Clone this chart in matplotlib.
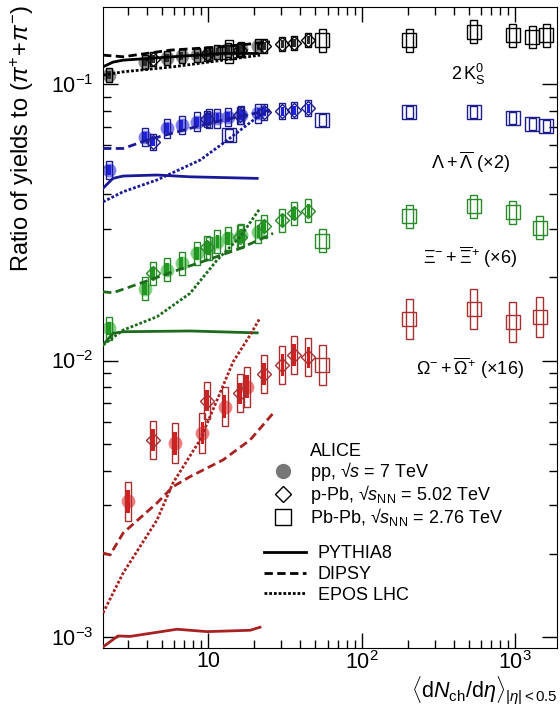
import numpy as np
import matplotlib
matplotlib.use('Agg')
import matplotlib.pyplot as plt
from matplotlib.patches import Rectangle
from matplotlib.lines import Line2D
from matplotlib.ticker import FuncFormatter, LogLocator, NullFormatter

plt.rcParams['font.family'] = ['Liberation Sans', 'DejaVu Sans']
plt.rcParams['mathtext.fontset'] = 'custom'
plt.rcParams['mathtext.rm'] = 'Liberation Sans'
plt.rcParams['mathtext.it'] = 'Liberation Sans:italic'
plt.rcParams['mathtext.bf'] = 'Liberation Sans:bold'

# multiplicity classes <dNch/deta>
pp_x = [2.26, 3.90, 5.40, 6.72, 8.45, 10.1, 11.5, 13.5, 16.5, 21.3]
pp_x_om = [3.0, 6.1, 9.2, 12.8, 18.0]
ppb_x = [4.4, 9.8, 16.1, 23.2, 30.5, 36.2, 45.0]
pbpb_x = [13.7, 55.5, 205, 537.5, 966, 1294, 1601]
pbpb_x_multi = [55.5, 205, 537.5, 966, 1447.5]

# measured ratios to (pi+ + pi-), already scaled
k0s_pp = [0.108, 0.120, 0.124, 0.126, 0.127, 0.129, 0.131, 0.133, 0.134, 0.137]
k0s_ppb = [0.123, 0.129, 0.133, 0.137, 0.140, 0.141, 0.144]
k0s_pbpb = [0.131, 0.144, 0.144, 0.155, 0.150, 0.148, 0.150]

lam_pp = [0.0489, 0.0645, 0.0692, 0.0711, 0.0731, 0.0752, 0.0752, 0.0762, 0.0773, 0.0783]
lam_ppb = [0.0618, 0.0750, 0.0770, 0.0794, 0.0799, 0.0805, 0.0817]
lam_pbpb = [0.0654, 0.0741, 0.0794, 0.0794, 0.0752, 0.0717, 0.0705]

xi_pp = [0.0131, 0.0182, 0.0213, 0.0225, 0.0244, 0.0255, 0.0269, 0.0277, 0.0284, 0.0292]
xi_ppb = [0.0207, 0.0257, 0.0280, 0.0306, 0.0322, 0.0341, 0.0348]
xi_pbpb = [0.0271, 0.0333, 0.0362, 0.0344, 0.0302]

om_pp = [0.00309, 0.00502, 0.00547, 0.00681, 0.00804]
om_ppb = [0.00516, 0.00716, 0.00761, 0.00894, 0.00963, 0.01047, 0.01027]
om_pbpb = [0.00963, 0.01409, 0.01532, 0.01381, 0.0144]

# relative systematic uncertainties (pp, p-Pb, Pb-Pb)
k0s_sys = [0.06, 0.06, 0.10]
lam_sys = [0.08, 0.07, 0.05]
xi_sys = [0.10, 0.10, 0.10]
om_sys = [0.18, 0.17, 0.18]

# model curves (pp)
k0s_pythia_x = [2.07, 2.40, 2.80, 5.91, 12.5, 20.9]
k0s_pythia = [0.1155, 0.1201, 0.1221, 0.1256, 0.1291, 0.1291]
k0s_dipsy_x = [2.07, 2.80, 5.65, 12.5, 25.3]
k0s_dipsy = [0.1273, 0.1256, 0.1327, 0.1365, 0.1422]
k0s_epos_x = [2.07, 2.80, 5.91, 12.5, 21.8]
k0s_epos = [0.1078, 0.1108, 0.1155, 0.1221, 0.1273]

lam_pythia_x = [2.07, 2.40, 2.80, 4.65, 7.63, 20.9]
lam_pythia = [0.0420, 0.0456, 0.0465, 0.0469, 0.0462, 0.0456]
lam_dipsy_x = [2.07, 2.80, 4.00, 7.63, 12.5, 25.3]
lam_dipsy = [0.0585, 0.0585, 0.0627, 0.0692, 0.0741, 0.0805]
lam_epos_x = [2.07, 2.80, 4.65, 8.87, 12.5, 21.8, 25.3]
lam_epos = [0.0375, 0.0408, 0.0450, 0.0531, 0.0610, 0.0773, 0.0799]

xi_pythia_x = [2.07, 2.40, 2.80, 7.63, 20.9]
xi_pythia = [0.01138, 0.01254, 0.01271, 0.01279, 0.01259]
xi_dipsy_x = [2.07, 2.40, 3.61, 5.91, 9.85, 16.2, 26.5]
xi_dipsy = [0.01773, 0.01758, 0.01902, 0.02096, 0.02309, 0.02544, 0.02884]
xi_epos_x = [2.07, 2.80, 4.65, 7.63, 11.45, 16.2, 21.8]
xi_epos = [0.01138, 0.01289, 0.0144, 0.0175, 0.02309, 0.02803, 0.03552]

om_pythia_x = [2.07, 2.59, 3.10, 6.28, 9.85, 18.8, 21.8]
om_pythia = [0.00092, 0.001008, 0.001004, 0.001066, 0.001045, 0.001057, 0.001084]
om_dipsy_x = [2.07, 2.30, 2.80, 4.65, 5.91, 7.63, 12.5, 18.8, 26.5]
om_dipsy = [0.002012, 0.00198, 0.002377, 0.003052, 0.003496, 0.0038, 0.004366, 0.00516, 0.00644]
om_epos_x = [2.07, 2.80, 4.65, 5.91, 8.87, 11.45, 14.55, 18.8, 21.8]
om_epos = [0.001221, 0.001704, 0.002649, 0.003606, 0.00516, 0.0072, 0.00988, 0.01237, 0.01425]

fig = plt.figure(figsize=(5.6, 7.07), dpi=100)
ax = fig.add_axes([0.184, 0.0835, 0.811, 0.9065])
ax.set_xscale('log')
ax.set_yscale('log')
ax.set_xlim(2.07, 1880)
ax.set_ylim(0.000912, 0.19)

LS = {'pythia': '-', 'dipsy': (0, (3, 1.6)), 'epos': (0, (1, 0.7))}


def draw_points(x, y, rel, kind, dark, light, edge):
    hw = 1.055 if kind == 'PbPb' else 1.046
    for xv, yv in zip(x, y):
        y0, y1 = yv / (1 + rel), yv * (1 + rel)
        ax.add_patch(Rectangle((xv / hw, y0), xv * hw - xv / hw, y1 - y0,
                               fill=False, ec=edge, lw=1, zorder=4))
        if kind != 'PbPb':
            u = 1 + 0.55 * rel
            bw = 1.028
            ax.add_patch(Rectangle((xv / bw, yv / u), xv * bw - xv / bw, yv * u - yv / u,
                                   fc=dark, ec='none', zorder=3))
    if kind == 'pp':
        ax.plot(x, y, 'o', ms=10, mfc=light, mec='none', alpha=0.85, zorder=2)
    elif kind == 'pPb':
        ax.plot(x, y, 'D', ms=7.5, mfc='none', mec=edge, mew=1, zorder=5)
    else:
        ax.plot(x, y, 's', ms=10.5, mfc='none', mec=edge, mew=1, zorder=5)


def draw_species(pp, ppb, pbpb, xpp, xpbpb, sys, dark, light, edge, models, mcol):
    for (mx, my), key in zip(models, ['pythia', 'dipsy', 'epos']):
        ax.plot(mx, my, color=mcol, ls=LS[key], lw=2, zorder=6)
    draw_points(xpp, pp, sys[0], 'pp', dark, light, edge)
    draw_points(ppb_x, ppb, sys[1], 'pPb', dark, light, edge)
    draw_points(xpbpb, pbpb, sys[2], 'PbPb', dark, light, edge)


draw_species(k0s_pp, k0s_ppb, k0s_pbpb, pp_x, pbpb_x, k0s_sys,
             '#2a2a2a', '#7a7a7a', 'black',
             [(k0s_pythia_x, k0s_pythia), (k0s_dipsy_x, k0s_dipsy), (k0s_epos_x, k0s_epos)], 'black')
draw_species(lam_pp, lam_ppb, lam_pbpb, pp_x, pbpb_x, lam_sys,
             '#2020e0', '#6a6af0', '#1c1c8c',
             [(lam_pythia_x, lam_pythia), (lam_dipsy_x, lam_dipsy), (lam_epos_x, lam_epos)], '#1a1a99')
draw_species(xi_pp, xi_ppb, xi_pbpb, pp_x, pbpb_x_multi, xi_sys,
             '#1f9a1f', '#6ccd6c', '#2a8a2a',
             [(xi_pythia_x, xi_pythia), (xi_dipsy_x, xi_dipsy), (xi_epos_x, xi_epos)], '#1e6b1e')
draw_species(om_pp, om_ppb, om_pbpb, pp_x_om, pbpb_x_multi, om_sys,
             '#d42020', '#ee6a6a', '#a83030',
             [(om_pythia_x, om_pythia), (om_dipsy_x, om_dipsy), (om_epos_x, om_epos)], '#a82222')

# axes styling (ROOT look)
ax.xaxis.set_major_locator(LogLocator(base=10, numticks=10))
ax.xaxis.set_minor_locator(LogLocator(base=10, subs=np.arange(2, 10), numticks=20))
ax.yaxis.set_major_locator(LogLocator(base=10, numticks=10))
ax.yaxis.set_minor_locator(LogLocator(base=10, subs=np.arange(2, 10), numticks=20))
ax.xaxis.set_major_formatter(FuncFormatter(
    lambda v, p: '10' if round(np.log10(v)) == 1 else r'$10^{%d}$' % round(np.log10(v))))
ax.yaxis.set_major_formatter(FuncFormatter(lambda v, p: r'$10^{%d}$' % round(np.log10(v))))
ax.xaxis.set_minor_formatter(NullFormatter())
ax.yaxis.set_minor_formatter(NullFormatter())
ax.tick_params(which='both', direction='in', top=True, right=True, labelsize=15.5)
ax.tick_params(which='major', length=11, width=1)
ax.tick_params(which='minor', length=5.5, width=1)
ax.tick_params(axis='x', pad=2)
ax.tick_params(axis='y', pad=7)

ax.text(-0.178, 0.795, r'Ratio of yields to $(\pi^{+}\!+\!\pi^{-})$', rotation=90,
        ha='center', va='center', fontsize=17, transform=ax.transAxes)
ax.text(1.0, -0.091, r'$\langle\mathrm{d}N_{\mathrm{ch}}/\mathrm{d}\eta\rangle_{|\eta|<0.5}$',
        ha='right', va='bottom', fontsize=15.5, transform=ax.transAxes)

ax.text(0.805, 0.895, r'$2\,\mathrm{K}^{0}_{\mathrm{S}}$', ha='center', va='center',
        fontsize=13, transform=ax.transAxes)
ax.text(0.808, 0.758, r'$\Lambda+\overline{\Lambda}$ ($\times$2)', ha='center', va='center',
        fontsize=13, transform=ax.transAxes)
ax.text(0.808, 0.61, r'$\Xi^{-}+\overline{\Xi}^{+}$ ($\times$6)', ha='center', va='center',
        fontsize=13, transform=ax.transAxes)
ax.text(0.808, 0.437, r'$\Omega^{-}+\overline{\Omega}^{+}$ ($\times$16)', ha='center', va='center',
        fontsize=13, transform=ax.transAxes)

# legends
h1 = [Line2D([], [], ls='none'),
      Line2D([], [], ls='none', marker='o', ms=11, mfc='#777777', mec='none'),
      Line2D([], [], ls='none', marker='D', ms=8, mfc='none', mec='black'),
      Line2D([], [], ls='none', marker='s', ms=11, mfc='none', mec='black')]
l1 = ['ALICE', r'pp, √$s$ = 7 TeV',
      r'p-Pb, √$s_{\mathrm{NN}}$ = 5.02 TeV',
      r'Pb-Pb, √$s_{\mathrm{NN}}$ = 2.76 TeV']
leg1 = ax.legend(h1, l1, loc='upper left', bbox_to_anchor=(0.372, 0.32), frameon=False,
                 fontsize=13, handlelength=1.2, handletextpad=0.9, labelspacing=0.0,
                 borderaxespad=0, borderpad=0)
ax.add_artist(leg1)
h2 = [Line2D([], [], color='black', ls=LS[k], lw=2) for k in ['pythia', 'dipsy', 'epos']]
ax.legend(h2, ['PYTHIA8', 'DIPSY', 'EPOS LHC'], loc='upper left', bbox_to_anchor=(0.355, 0.16),
          frameon=False, fontsize=13, handlelength=2.3, handletextpad=0.65, labelspacing=0.2,
          borderaxespad=0, borderpad=0)

fig.savefig('out.png', dpi=100)
